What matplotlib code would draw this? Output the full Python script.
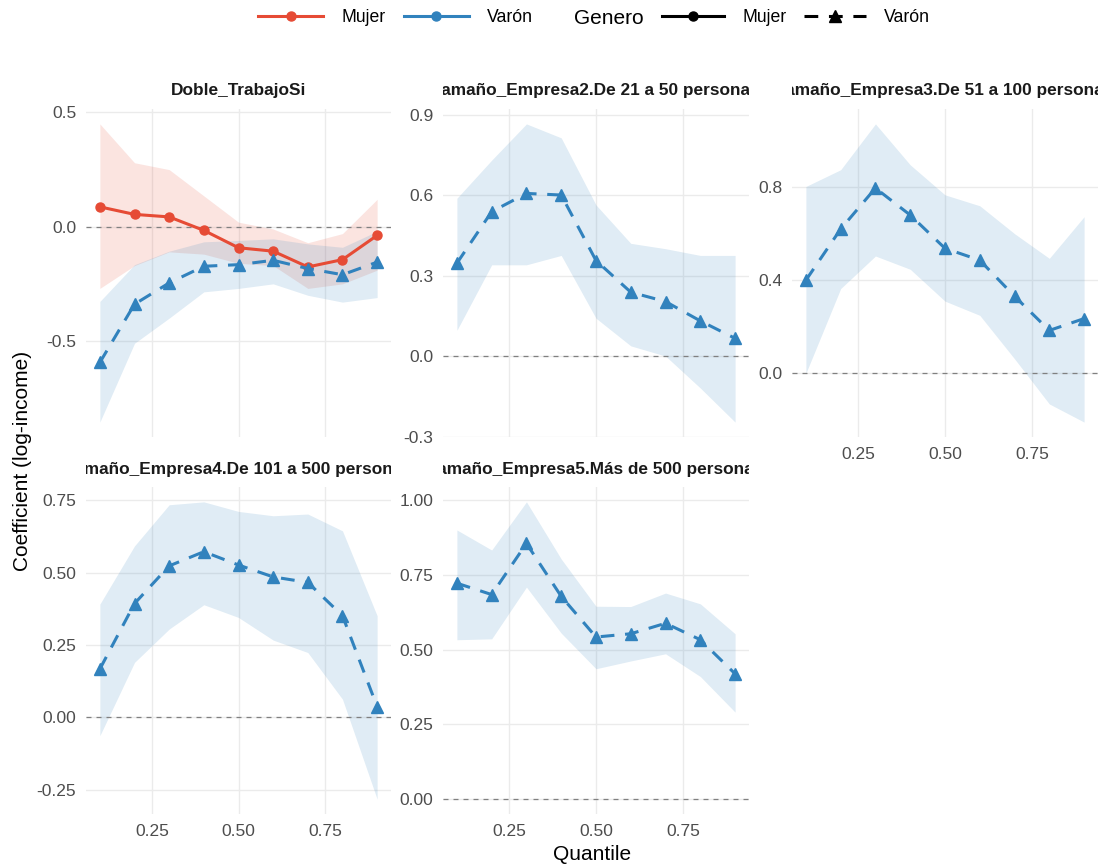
import numpy as np
import matplotlib
matplotlib.use("Agg")
import matplotlib.pyplot as plt
from matplotlib.lines import Line2D

plt.rcParams['font.family'] = ['Liberation Sans', 'DejaVu Sans']

# -----
# data (quantile regression coefficients)
# -----
quantiles = [0.1, 0.2, 0.3, 0.4, 0.5, 0.6, 0.7, 0.8, 0.9]

terms = ["Doble_TrabajoSi",
         "Tamaño_Empresa2.De 21 a 50 personas",
         "Tamaño_Empresa3.De 51 a 100 personas",
         "Tamaño_Empresa4.De 101 a 500 personas",
         "Tamaño_Empresa5.Más de 500 personas"]

doble_mujer_coef = [0.087, 0.054, 0.043, -0.016, -0.092, -0.107, -0.176, -0.144, -0.038]
doble_mujer_lo = [-0.27, -0.17, -0.11, -0.12, -0.16, -0.17, -0.27, -0.25, -0.19]
doble_mujer_hi = [0.45, 0.28, 0.25, 0.135, 0.02, -0.01, -0.07, -0.03, 0.12]

doble_varon_coef = [-0.594, -0.339, -0.246, -0.173, -0.166, -0.147, -0.183, -0.21, -0.155]
doble_varon_lo = [-0.855, -0.51, -0.40, -0.285, -0.27, -0.25, -0.30, -0.33, -0.31]
doble_varon_hi = [-0.327, -0.166, -0.107, -0.066, -0.06, -0.053, -0.075, -0.09, -0.02]

emp2_coef = [0.346, 0.538, 0.606, 0.600, 0.356, 0.238, 0.203, 0.131, 0.066]
emp2_lo = [0.096, 0.34, 0.34, 0.375, 0.141, 0.038, 0.0, -0.119, -0.246]
emp2_hi = [0.588, 0.73, 0.865, 0.813, 0.563, 0.42, 0.40, 0.375, 0.375]

emp3_coef = [0.40, 0.62, 0.796, 0.68, 0.537, 0.486, 0.331, 0.184, 0.235]
emp3_lo = [0.0, 0.364, 0.504, 0.447, 0.31, 0.249, 0.062, -0.132, -0.21]
emp3_hi = [0.803, 0.875, 1.072, 0.896, 0.767, 0.72, 0.60, 0.494, 0.673]

emp4_coef = [0.167, 0.393, 0.523, 0.572, 0.526, 0.485, 0.466, 0.351, 0.037]
emp4_lo = [-0.063, 0.19, 0.305, 0.389, 0.345, 0.267, 0.224, 0.063, -0.282]
emp4_hi = [0.391, 0.592, 0.734, 0.744, 0.711, 0.696, 0.702, 0.644, 0.351]

emp5_coef = [0.722, 0.684, 0.855, 0.678, 0.542, 0.553, 0.588, 0.533, 0.419]
emp5_lo = [0.533, 0.536, 0.709, 0.555, 0.436, 0.462, 0.486, 0.41, 0.291]
emp5_hi = [0.90, 0.833, 0.994, 0.803, 0.645, 0.644, 0.689, 0.653, 0.553]

varon_series = [(doble_varon_coef, doble_varon_lo, doble_varon_hi),
                (emp2_coef, emp2_lo, emp2_hi),
                (emp3_coef, emp3_lo, emp3_hi),
                (emp4_coef, emp4_lo, emp4_hi),
                (emp5_coef, emp5_lo, emp5_hi)]

y_ticks = [[-0.5, 0.0, 0.5],
           [-0.3, 0.0, 0.3, 0.6, 0.9],
           [0.0, 0.4, 0.8],
           [-0.25, 0.0, 0.25, 0.5, 0.75],
           [0.0, 0.25, 0.5, 0.75, 1.0]]
y_fmt = ["{:.1f}", "{:.1f}", "{:.1f}", "{:.2f}", "{:.2f}"]
x_ticks = [0.25, 0.5, 0.75]

RED = "#E64B35"
BLUE = "#3182BD"
GRID = "#EBEBEB"
DASH = (0, (4.5, 3.5))

W, H = 1106, 868
fig = plt.figure(figsize=(W / 100, H / 100), dpi=100)


def px_axes(left, top, right, bottom):
    return fig.add_axes([left / W, 1 - bottom / H, (right - left) / W, (bottom - top) / H])


cols = [(86, 391), (443, 749), (792, 1098)]
rows = [(109, 437), (487, 814)]
strip_h = 36

for i, term in enumerate(terms):
    r, c = divmod(i, 3)
    x0, x1 = cols[c]
    y0, y1 = rows[r]
    ax = px_axes(x0, y0, x1, y1)

    coef, lo, hi = varon_series[i]
    all_lo, all_hi = list(lo), list(hi)
    if i == 0:
        ax.fill_between(quantiles, doble_mujer_lo, doble_mujer_hi, color=RED, alpha=0.15, lw=0)
        all_lo += doble_mujer_lo
        all_hi += doble_mujer_hi
    ax.fill_between(quantiles, lo, hi, color=BLUE, alpha=0.15, lw=0)
    ax.axhline(0, color="#808080", lw=0.9, ls=(0, (4, 4)), zorder=1.5)
    if i == 0:
        ax.plot(quantiles, doble_mujer_coef, color=RED, lw=2.2, marker="o", ms=6.5, zorder=3)
    ax.plot(quantiles, coef, color=BLUE, lw=2.2, ls=DASH, marker="^", ms=9, zorder=3)

    lo_v = min(min(all_lo), 0)
    hi_v = max(max(all_hi), 0)
    pad = (hi_v - lo_v) * 0.05
    ax.set_ylim(lo_v - pad, hi_v + pad)
    ax.set_xlim(0.06, 0.94)

    ax.set_yticks(y_ticks[i])
    ax.set_yticklabels([y_fmt[i].format(v) for v in y_ticks[i]])
    ax.set_xticks(x_ticks)
    show_x = (r == 1) or (c == 2)
    if show_x:
        ax.set_xticklabels(["0.25", "0.50", "0.75"])
    else:
        ax.set_xticklabels([])
    ax.tick_params(length=0, pad=7, labelsize=12.5, labelcolor="#4D4D4D")
    ax.grid(True, color=GRID, lw=1.0)
    ax.set_axisbelow(True)
    for s in ax.spines.values():
        s.set_visible(False)

    # facet strip, text clipped to the panel width like ggplot
    st = px_axes(x0, y0 - strip_h, x1, y0)
    st.axis("off")
    st.text(0.5, 0.5, term, ha="center", va="center", fontsize=12.4, fontweight="bold",
            color="#1A1A1A", transform=st.transAxes, clip_on=True)

fig.text(592 / W, 1 - 855 / H, "Quantile", ha="center", va="center", fontsize=15)
fig.text(23 / W, 1 - 461 / H, "Coefficient (log-income)", ha="center", va="center",
         rotation=90, fontsize=15)

# legends at the top
leg_y = 1 - 18 / H
h_red = Line2D([], [], color=RED, lw=2.2, marker="o", ms=6.5)
h_blue = Line2D([], [], color=BLUE, lw=2.2, marker="o", ms=6.5)
leg1 = fig.legend([h_red, h_blue], ["Mujer", "Varón"], ncol=2, loc="center left",
                  bbox_to_anchor=(258 / W, leg_y), frameon=False, fontsize=12.7,
                  handlelength=3.7, handletextpad=1.05, columnspacing=1.0,
                  borderpad=0, borderaxespad=0)
fig.text(574 / W, leg_y, "Genero", ha="left", va="center", fontsize=15)
h_sol = Line2D([], [], color="black", lw=2.2, marker="o", ms=6.5)
h_das = Line2D([], [], color="black", lw=2.2, ls=DASH, marker="^", ms=8)
leg2 = fig.legend([h_sol, h_das], ["Mujer", "Varón"], ncol=2, loc="center left",
                  bbox_to_anchor=(662 / W, leg_y), frameon=False, fontsize=12.7,
                  handlelength=3.5, handletextpad=1.05, columnspacing=1.0,
                  borderpad=0, borderaxespad=0)

fig.savefig("out.png", dpi=100)
